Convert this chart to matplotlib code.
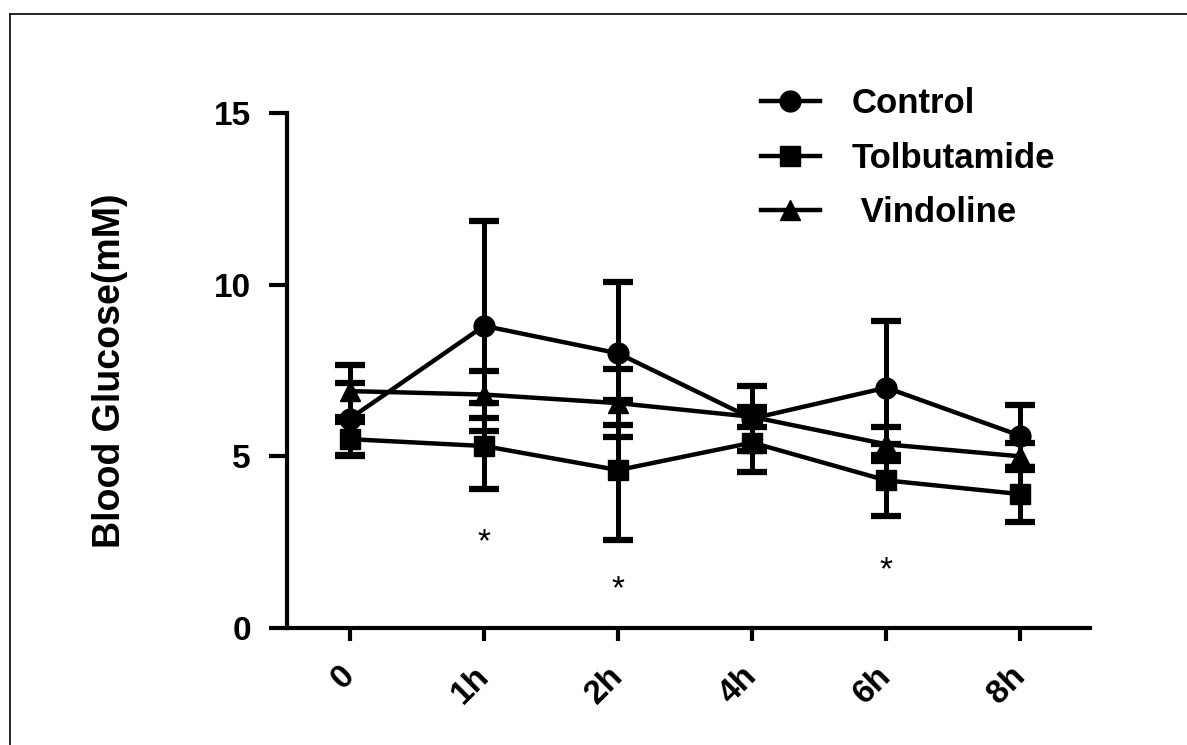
import matplotlib
matplotlib.use("Agg")
import matplotlib.pyplot as plt
import matplotlib.transforms as mtransforms
from matplotlib.lines import Line2D

# ---- data ----
time_labels = ['0', '1h', '2h', '4h', '6h', '8h']
control_mean = [6.1, 8.8, 8.0, 6.1, 7.0, 5.6]
control_err = [1.05, 3.05, 2.08, 0.95, 1.95, 0.9]
tolb_mean = [5.5, 5.3, 4.6, 5.4, 4.3, 3.9]
tolb_err = [0.5, 1.25, 2.05, 0.85, 1.05, 0.8]
vind_mean = [6.9, 6.8, 6.55, 6.15, 5.35, 5.0]
vind_err = [0.75, 0.68, 1.0, 0.3, 0.5, 0.4]
series_names = ['Control', 'Tolbutamide', ' Vindoline']
star_x = [1, 2, 4]
star_y = [2.47, 1.1, 1.66]
y_ticks = [0, 5, 10, 15]

FONT = ['Liberation Sans', 'DejaVu Sans']
plt.rcParams['font.family'] = FONT

fig = plt.figure(figsize=(11.87, 7.45), dpi=100)
ax = fig.add_axes([287/1187, 1 - 628/745, (1090-287)/1187, (628-113)/745])

x = list(range(len(time_labels)))
markers = ['o', 's', '^']
means = [control_mean, tolb_mean, vind_mean]
errs = [control_err, tolb_err, vind_err]
handles = []
for m, mu, er, name in zip(markers, means, errs, series_names):
    ax.errorbar(x, mu, yerr=er, fmt='-', marker=m, color='black', ms=15,
                lw=3.2, elinewidth=3.6, capsize=11, capthick=4.5, zorder=3,
                clip_on=False)
    handles.append(Line2D([0], [0], color='black', lw=3.2, marker=m, ms=15))

for sx, sy in zip(star_x, star_y):
    ax.text(sx, sy, '*', ha='center', va='center', fontsize=24, color='black')

ax.set_xlim(-0.47, 5.52)
ax.set_ylim(0, 15)
ax.set_yticks(y_ticks)
ax.set_xticks(x)
ax.set_xticklabels(time_labels, rotation=45, ha='right', va='center',
                   rotation_mode='anchor')
for lab in ax.get_xticklabels() + ax.get_yticklabels():
    lab.set_fontweight('bold')
    lab.set_fontsize(24)
offset = mtransforms.ScaledTranslation(5/100, 0, fig.dpi_scale_trans)
for lab in ax.get_xticklabels():
    lab.set_transform(lab.get_transform() + offset)

for s in ['top', 'right']:
    ax.spines[s].set_visible(False)
for s in ['left', 'bottom']:
    ax.spines[s].set_linewidth(3)
ax.tick_params(axis='y', length=13, width=3, pad=13)
ax.tick_params(axis='x', length=9, width=3, pad=22)

ax.set_ylabel('Blood Glucose(mM)', fontsize=27, fontweight='bold')
ax.yaxis.set_label_coords((128-287)/803, 0.5)

leg = ax.legend(handles, series_names, loc='upper left',
                bbox_to_anchor=((747-287)/803, 1.077), frameon=False,
                prop={'size': 25, 'weight': 'bold'}, handlelength=1.7,
                handletextpad=0.9, labelspacing=0.62, borderaxespad=0)

# figure border (top and left edges)
fig.add_artist(Line2D([10/1187, 1], [1 - 14/745, 1 - 14/745], color='black', lw=1.2,
                      transform=fig.transFigure))
fig.add_artist(Line2D([10/1187, 10/1187], [0, 1 - 14/745], color='black', lw=1.2,
                      transform=fig.transFigure))

fig.savefig('out.png', dpi=100)
